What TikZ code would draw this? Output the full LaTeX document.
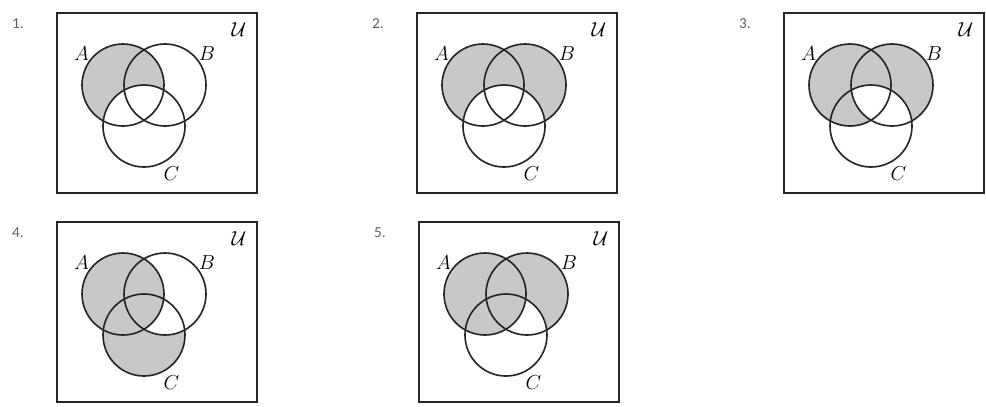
\documentclass[tikz,border=0pt]{standalone}
\usepackage{fontspec}
\newfontfamily\numfont{Carlito}
\definecolor{setgray}{RGB}{200,200,200}
\definecolor{numgray}{RGB}{95,95,95}

\tikzstyle{setline} = [line width=1.4pt, draw=black!85]
\tikzstyle{ingray} = [fill=setgray]
\tikzstyle{inwhite} = [fill=white]
\tikzstyle{setlabel} = [inner sep=0pt, font=\fontsize{18}{20}\selectfont]
\tikzstyle{numlabel} = [inner sep=0pt, text=numgray, font=\numfont\fontsize{13}{15}\selectfont]

% one panel: box corner x, y, number, shading
\newcommand{\vennpanel}[4]{%
\begin{scope}[shift={(#1,#2)}]
	\coordinate (cA) at (66,72);
	\coordinate (cB) at (108,72);
	\coordinate (cC) at (87,113);
	#4
	\draw[setline] (0,0) rectangle (200,180);
	\draw[setline] (cA) circle[radius=41];
	\draw[setline] (cB) circle[radius=41];
	\draw[setline] (cC) circle[radius=41];
	\node[numlabel] (num#3) at (-39,11) {#3.};
	\node[setlabel] (univ#3) at (182,17) {$\mathcal{U}$};
	\node[setlabel] (labA#3) at (24.5,40.5) {$A$};
	\node[setlabel] (labB#3) at (150,41) {$B$};
	\node[setlabel] (labC#3) at (114.5,160.5) {$C$};
\end{scope}}

\begin{document}
\begin{tikzpicture}[x=0.03cm, y=-0.03cm]
	\useasboundingbox (0,0) rectangle (986,406);
	%panel 1: A minus C
	\vennpanel{57}{13}{1}{%
		\fill[ingray] (cA) circle[radius=41];
		\fill[inwhite] (cC) circle[radius=41];}
	%panel 2: (A or B) minus C
	\vennpanel{417}{13}{2}{%
		\fill[ingray] (cA) circle[radius=41] (cB) circle[radius=41];
		\fill[inwhite] (cC) circle[radius=41];}
	%panel 3: (A or B) minus (B and C)
	\vennpanel{784}{13}{3}{%
		\fill[ingray] (cA) circle[radius=41] (cB) circle[radius=41];
		\begin{scope}
			\clip (cB) circle[radius=41];
			\fill[inwhite] (cC) circle[radius=41];
		\end{scope}}
	%panel 4: A or (C minus B)
	\vennpanel{57}{222}{4}{%
		\fill[ingray] (cC) circle[radius=41];
		\begin{scope}
			\clip (cB) circle[radius=41];
			\fill[inwhite] (cC) circle[radius=41];
		\end{scope}
		\fill[ingray] (cA) circle[radius=41];}
	%panel 5: A or (B minus C)
	\vennpanel{419}{222}{5}{%
		\fill[ingray] (cB) circle[radius=41];
		\begin{scope}
			\clip (cC) circle[radius=41];
			\fill[inwhite] (cB) circle[radius=41];
		\end{scope}
		\fill[ingray] (cA) circle[radius=41];}
\end{tikzpicture}
\end{document}
